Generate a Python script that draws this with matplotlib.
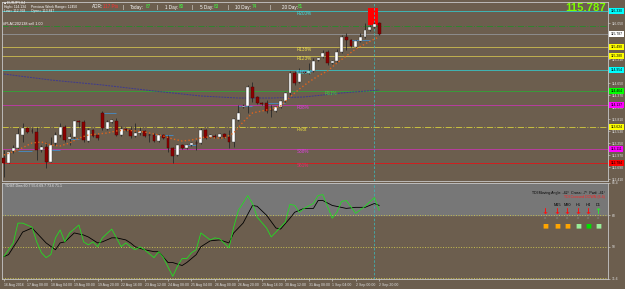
import numpy as np
import matplotlib.pyplot as plt
from matplotlib.transforms import blended_transform_factory

plt.rcParams['font.family'] = ['Liberation Sans', 'DejaVu Sans']

# EURJPY H4 bars, 16 Aug 2016 12:00 -> 2 Sep 2016 20:00
opens = [112.901, 112.784, 113.064, 113.134, 113.437, 113.601, 113.531, 113.507, 113.087, 113.157,
         112.807, 113.251, 113.437, 113.624, 113.344, 113.391, 113.764, 113.741, 113.297, 113.554,
         113.437, 113.951, 113.577, 113.741, 113.764, 113.437, 113.577, 113.554, 113.414, 113.484,
         113.531, 113.437, 113.437, 113.297, 113.437, 113.391, 113.134, 112.971, 113.204, 113.134,
         113.204, 113.251, 113.251, 113.554, 113.391, 113.414, 113.391, 113.461, 113.391, 113.274,
         113.787, 114.090, 114.114, 114.557, 114.324, 114.184, 114.184, 114.020, 113.997, 114.090,
         114.230, 114.417, 114.884, 114.674, 114.907, 114.884, 114.930, 115.187, 115.257, 115.374,
         115.117, 115.164, 115.374, 115.724, 115.654, 115.490, 115.630, 115.724, 115.887, 115.957,
         116.050]
highs = [113.087, 113.064, 113.204, 113.601, 113.717, 113.624, 113.601, 113.624, 113.204, 113.274,
         113.391, 113.507, 113.717, 113.671, 113.484, 113.787, 113.787, 113.787, 113.601, 113.577,
         113.461, 113.997, 113.787, 113.811, 113.834, 113.647, 113.601, 113.647, 113.717, 113.624,
         113.554, 113.484, 113.484, 113.461, 113.461, 113.437, 113.157, 113.227, 113.227, 113.227,
         113.274, 113.320, 113.601, 113.577, 113.461, 113.461, 113.484, 113.484, 113.554, 113.834,
         114.137, 114.160, 114.604, 114.674, 114.347, 114.207, 114.254, 114.137, 114.114, 114.254,
         114.440, 114.930, 114.930, 115.000, 114.930, 115.117, 115.234, 115.257, 115.420, 115.420,
         115.187, 115.444, 115.770, 115.817, 115.677, 115.654, 115.817, 116.050, 116.004, 116.074,
         116.074]
lows = [112.457, 112.784, 113.017, 113.087, 113.274, 113.484, 113.484, 112.854, 113.041, 112.667,
        112.807, 113.204, 113.391, 113.274, 113.204, 113.367, 113.624, 113.274, 113.274, 113.391,
        113.320, 113.554, 113.554, 113.717, 113.414, 113.414, 113.531, 113.367, 113.391, 113.437,
        113.391, 113.274, 113.274, 113.274, 113.344, 113.041, 112.784, 112.947, 113.111, 113.111,
        113.181, 113.087, 113.227, 113.344, 113.367, 113.367, 113.367, 113.367, 113.134, 113.157,
        113.764, 114.067, 113.951, 114.207, 114.160, 114.137, 113.951, 113.857, 113.974, 114.067,
        114.207, 114.370, 114.604, 114.650, 114.884, 114.860, 114.907, 115.164, 115.234, 115.070,
        115.094, 115.140, 115.350, 115.420, 115.490, 115.467, 115.607, 115.700, 115.864, 115.934,
        115.770]
closes = [112.784, 113.041, 113.134, 113.461, 113.601, 113.507, 113.519, 113.087, 113.157, 112.807,
          113.204, 113.437, 113.624, 113.320, 113.391, 113.764, 113.752, 113.320, 113.554, 113.414,
          113.367, 113.601, 113.741, 113.787, 113.437, 113.577, 113.554, 113.414, 113.484, 113.531,
          113.414, 113.426, 113.297, 113.437, 113.367, 113.134, 112.947, 113.204, 113.134, 113.204,
          113.251, 113.239, 113.554, 113.367, 113.437, 113.402, 113.461, 113.391, 113.274, 113.811,
          113.951, 114.114, 114.557, 114.300, 114.184, 114.172, 113.997, 114.009, 114.090, 114.230,
          114.417, 114.884, 114.650, 114.884, 114.895, 114.930, 115.164, 115.234, 115.350, 115.117,
          115.164, 115.374, 115.724, 115.654, 115.514, 115.630, 115.724, 115.887, 115.957, 116.027,
          115.787]

time_ticks = [0, 5, 10, 15, 20, 25, 30, 35, 40, 45, 50, 55, 60, 65, 70, 75, 80]
time_labels = ['16 Aug 2016', '17 Aug 08:00', '18 Aug 04:00', '19 Aug 00:00', '19 Aug 20:00',
               '22 Aug 16:00', '23 Aug 12:00', '24 Aug 08:00', '25 Aug 04:00', '26 Aug 00:00',
               '26 Aug 20:00', '29 Aug 16:00', '30 Aug 12:00', '31 Aug 08:00', '1 Sep 04:00',
               '2 Sep 00:00', '2 Sep 20:00']

price_ticks = [112.410, 112.690, 112.970, 113.250, 113.530, 113.810, 114.090, 114.370,
               114.650, 114.930, 115.210, 115.490, 115.770, 116.050]

# moving averages
fast_ma_idx = [0, 3, 6, 8, 10, 12, 14, 16, 18, 20, 22, 24, 26, 28, 30, 32, 34, 36, 38, 40, 42,
               43, 45, 47, 49, 51, 53, 55, 57, 59, 61, 63, 65, 67, 69, 71, 73, 75, 77, 79, 80]
fast_ma = [112.971, 113.087, 113.251, 113.274, 113.204, 113.181, 113.251, 113.367, 113.437, 113.461,
           113.484, 113.531, 113.554, 113.531, 113.507, 113.461, 113.414, 113.344, 113.297, 113.320,
           113.367, 113.391, 113.367, 113.367, 113.484, 113.741, 113.951, 113.997, 114.044, 114.114,
           114.324, 114.510, 114.674, 114.814, 114.930, 115.117, 115.280, 115.444, 115.560, 115.677,
           115.724]
slow_ma_idx = [0, 10, 21, 32, 42, 50, 57, 64, 72, 80]
slow_ma = [114.860, 114.720, 114.604, 114.464, 114.347, 114.300, 114.300, 114.324, 114.417, 114.487]

# short blue support / resistance segments
seg_start = [3, 10, 14, 21, 32, 38, 50, 56, 62, 74]
seg_end = [6, 12, 16, 24, 36, 41, 53, 60, 66, 78]
seg_price = [113.064, 113.087, 113.344, 113.951, 113.437, 113.204, 114.114, 114.184, 114.930, 115.654]

# signal box over the last bars
box_from, box_to = 77.6, 79.7
box_low, box_high = 116.004, 116.400

# pivot / fibo levels
level_prices = [116.330, 115.980, closes[-1], 115.490, 115.280, 114.954, 114.464, 114.137, 113.624, 113.111, 112.784]
level_colors = ['#3fb5b5', '#2f862f', '#8c8c8c', '#c0b050', '#c0b050', '#3fb5b5', '#3a9a3a',
                '#b83ca0', '#c8c040', '#b83ca0', '#d02020']
level_styles = ['-', '-.', '-', '-', '-', '-', '-', '-', '-.', '-', '-']
level_boxes = ['#00ffff', None, '#ffffff', '#ffff00', '#ffff00', '#00ffff', '#00ff00',
               '#ff00ff', '#ffff00', '#ff00ff', '#ff0000']
level_names = ['R200%', '', '', 'R138%', 'R123%', 'R100%', 'R61%', 'R38%', 'Pivot', 'S38%', 'S61%']
name_colors = ['#40e0e0', '', '', '#f0e050', '#f0e050', '#40e0e0', '#40d040', '#e040e0', '#f0e040',
               '#e040e0', '#e03070']
name_idx = [62.5, 0, 0, 62.5, 62.5, 62.5, 68.4, 62.5, 62.5, 62.5, 62.5]

# TDI indicator
tdi_green_idx = [0, 2, 3, 4, 6, 7, 8, 9, 10, 11, 12, 13, 14, 16, 17, 18, 19, 20, 21, 23, 24, 25, 26,
                 27, 28, 29, 30, 32, 33, 34, 36, 37, 38, 39, 40, 41, 42, 44, 45, 46, 48, 49, 50, 52,
                 53, 54, 56, 57, 58, 60, 61, 62, 63, 64, 66, 67, 68, 70, 71, 72, 73, 75, 77, 79, 80]
tdi_green = [44.4, 52.2, 63.5, 63.5, 61.2, 52.8, 46.6, 43.8, 45.5, 55.1, 59.6, 52.8, 57.9, 62.4, 52.8,
             51.1, 52.8, 50.0, 55.1, 60.1, 55.1, 50.0, 52.2, 50.0, 48.3, 50.0, 48.3, 43.8, 47.2, 43.8,
             33.1, 38.8, 43.3, 43.3, 46.6, 48.3, 57.9, 53.9, 55.1, 54.5, 49.4, 61.2, 70.8, 79.2, 74.7,
             66.9, 60.7, 55.6, 58.4, 64.1, 74.2, 73.6, 69.7, 71.9, 74.7, 79.2, 79.8, 66.3, 69.7, 75.9,
             76.4, 69.1, 73.1, 78.1, 70.8]
tdi_black_idx = [0, 1, 3, 4, 6, 7, 9, 11, 12, 13, 15, 17, 18, 20, 21, 23, 24, 26, 27, 28, 30, 32, 33,
                 35, 36, 38, 39, 41, 42, 44, 46, 48, 49, 51, 53, 54, 56, 58, 59, 61, 62, 64, 66, 67,
                 68, 70, 73, 75, 77, 79, 80]
tdi_black = [44.4, 45.5, 53.9, 58.4, 60.7, 57.9, 52.2, 48.3, 52.2, 52.8, 57.9, 56.7, 55.6, 52.2, 52.8,
             55.1, 55.1, 53.9, 52.2, 50.0, 48.3, 47.2, 47.2, 41.0, 41.0, 39.3, 41.0, 45.5, 50.0, 53.4,
             53.9, 52.2, 57.9, 63.5, 73.6, 73.1, 68.0, 60.7, 60.1, 66.3, 69.7, 71.9, 71.9, 76.4, 76.4,
             73.6, 71.9, 72.5, 72.5, 74.7, 73.6]
tdi_levels = [68, 50, 32]
tdi_min, tdi_max = 31.6, 86.4

# multi timeframe signal panel
tf_labels = ['', 'M15', 'M30', 'H1', 'H4', 'D1']
tf_arrows = ['↓', '↓', '↓', '↓', '↓', '↑']
tf_arrow_colors = ['#ff1010', '#ff1010', '#ff1010', '#ff1010', '#ff1010', '#30e030']
tf_squares = ['#ffa500', '#ffa500', '#ffa500', '#98ee98', '#00e000', '#98ee98']
tf_x = [545, 557, 567, 578, 588, 598]

cursor_bar = 79

bg = '#6c5e4e'
frame = '#c8c8c8'
W, H = 625, 289


def px(x, y):
    return x / W, 1 - y / H


fig = plt.figure(figsize=(6.25, 2.89), dpi=100, facecolor=bg)
ax = fig.add_axes([2 / W, 108 / H, 606 / W, 179 / H], facecolor=bg)
ax2 = fig.add_axes([2 / W, 10 / H, 606 / W, 96 / H], facecolor=bg, sharex=ax)

# ---- price panel ----
bars = np.arange(len(closes))
o, c = np.array(opens), np.array(closes)
up = c >= o
body_lo = np.minimum(o, c)
body_h = np.maximum(np.abs(c - o), 0.006)

for p, col, ls in zip(level_prices, level_colors, level_styles):
    ax.axhline(p, color=col, ls=ls, lw=0.7, zorder=1)

ax.hlines(seg_price, seg_start, seg_end, color='#4a86b8', lw=0.7, zorder=1)
ax.plot(slow_ma_idx, slow_ma, color='#3d3a90', ls='--', dashes=(2, 1), lw=0.7, zorder=2)
ax.bar((box_from + box_to) / 2, box_high - box_low, bottom=box_low, width=box_to - box_from,
       color='#ff0000', zorder=2)

ax.vlines(bars, lows, highs, color='#2a2a2a', lw=0.6, zorder=3)
ax.bar(bars[up], body_h[up], bottom=body_lo[up], width=0.62, color='white',
       edgecolor='#3a3a3a', lw=0.3, zorder=4)
ax.bar(bars[~up], body_h[~up], bottom=body_lo[~up], width=0.62, color='#8b0000',
       edgecolor='#4a0000', lw=0.3, zorder=4)
ax.plot(fast_ma_idx, fast_ma, color='#e0641e', ls=':', lw=1.0, zorder=5)

for name, col, xi, p in zip(level_names, name_colors, name_idx, level_prices):
    if name:
        ax.text(xi, p - 0.01, name, color=col, fontsize=3.3, ha='left', va='top', zorder=6)

trans = blended_transform_factory(ax.transAxes, ax.transData)
for p, box in zip(level_prices, level_boxes):
    if box:
        ax.text(1.004, p, f'{p:.3f}', transform=trans, ha='left', va='center', fontsize=2.4,
                color='black', clip_on=False, zorder=6,
                bbox=dict(boxstyle='square,pad=0.35', fc=box, ec='none'))

ax.axvline(cursor_bar, color='#40b0b0', ls='--', lw=0.6, dashes=(3, 2), zorder=2)
ax.set_xlim(-0.4, 128.8)
ax.set_ylim(112.364, 116.540)
ax.yaxis.tick_right()
ax.set_yticks(price_ticks)
ax.yaxis.set_major_formatter('{x:.3f}')
ax.tick_params(axis='y', labelsize=2.4, colors='#e0e0e0', length=1.5, width=0.4, pad=1)
ax.tick_params(axis='x', bottom=False, labelbottom=False)

# header texts
fig.text(*px(4, 3), '■ EURJPY,H4', fontsize=2.4, color='white', va='center')
fig.text(*px(4, 7), 'High= 114.134', fontsize=2.4, color='white', va='center')
fig.text(*px(4, 11), 'Low= 112.768', fontsize=2.4, color='white', va='center')
fig.text(*px(31, 7), 'Previous Week Range= 12450', fontsize=2.4, color='white', va='center')
fig.text(*px(31, 11), 'Open= 113.847', fontsize=2.4, color='white', va='center')
fig.text(*px(3, 24), '#PLAC202138 sell 1.00', fontsize=2.7, color='white', va='center')

adr_parts = [(92, 'ADR:', 'white'), (103, '117 Pts', '#ff3030'), (123, '|', 'white'),
             (130, 'Today:', 'white'), (146, '87', '#40ff40'), (157, '|', 'white'),
             (165, '1 Day:', 'white'), (179, '80', '#40ff40'), (192, '|', 'white'),
             (200, '5 Day:', 'white'), (214, '83', '#40ff40'), (228, '|', 'white'),
             (235, '10 Day:', 'white'), (252, '74', '#40ff40'), (270, '|', 'white'),
             (282, '20 Day:', 'white'), (298, '81', '#40ff40')]
for x, s, col in adr_parts:
    fig.text(*px(x, 7), s, fontsize=3.3, color=col, va='center')

fig.text(*px(606, 8), f'{closes[-1]:.3f}', fontsize=8.2, fontweight='bold', color='#7cfc00',
         ha='right', va='center')

# ---- TDI panel ----
ax2.axhspan(68, tdi_max, color='#777777', zorder=0)
for lv in tdi_levels:
    ax2.axhline(lv, color='#c8c050', ls=':', lw=0.7, zorder=1)
ax2.axvline(cursor_bar, color='#40b0b0', ls='--', lw=0.6, dashes=(3, 2), zorder=1)
ax2.plot(tdi_black_idx, tdi_black, color='black', lw=0.6, zorder=3)
ax2.plot(tdi_green_idx, tdi_green, color='#22dd22', lw=0.6, zorder=4)
ax2.set_ylim(tdi_min, tdi_max)
ax2.yaxis.tick_right()
ax2.set_yticks([tdi_min, 50, 68, tdi_max])
ax2.set_yticklabels([f'{tdi_min}', '50', '68', f'{tdi_max}'])
ax2.tick_params(axis='y', labelsize=2.4, colors='#e0e0e0', length=1.5, width=0.4, pad=1)
ax2.set_xticks(time_ticks)
ax2.set_xticklabels(time_labels, ha='left')
ax2.tick_params(axis='x', labelsize=2.5, colors='#e0e0e0', length=1.5, width=0.4, pad=1.5)

fig.text(*px(5, 186), 'TDI4T-Dins 60.7 55.6 69.7 73.6 71.1', fontsize=2.5, color='#e8e8e8', va='center')
fig.text(*px(605, 193), 'TDI Moving Angle: -42°  Cross: -7°  Pwd: -41°', fontsize=2.6,
         color='black', ha='right', va='center')
fig.text(*px(605, 197), 'TDI Crossed DOWN (6.4)', fontsize=2.6, color='#ff2020', ha='right', va='center')
for x, lab, arr, acol, sq in zip(tf_x, tf_labels, tf_arrows, tf_arrow_colors, tf_squares):
    fig.text(*px(x, 205), lab, fontsize=2.8, color='black', ha='center', va='center')
    fig.text(*px(x, 212), arr, fontsize=6, color=acol, ha='center', va='center',
             fontweight='bold', family='DejaVu Sans')
    fig.text(*px(x, 218), 'o', fontsize=3, color='#8a8a8a', ha='center', va='center')
    fig.text(*px(x, 226), '■', fontsize=4.5, color=sq, ha='center', va='center', family='DejaVu Sans')

for a in (ax, ax2):
    for sp in a.spines.values():
        sp.set_color(frame)
        sp.set_linewidth(0.6)

fig.savefig('out.png', dpi=100, facecolor=bg)
